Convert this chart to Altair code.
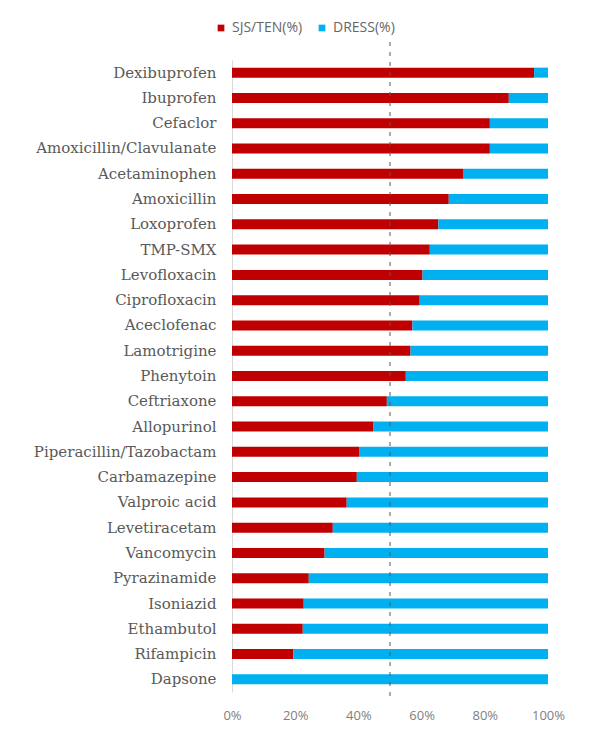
import altair as alt
import pandas as pd

drugs = ["Dexibuprofen", "Ibuprofen", "Cefaclor", "Amoxicillin/Clavulanate", "Acetaminophen",
         "Amoxicillin", "Loxoprofen", "TMP-SMX", "Levofloxacin", "Ciprofloxacin",
         "Aceclofenac", "Lamotrigine", "Phenytoin", "Ceftriaxone", "Allopurinol",
         "Piperacillin/Tazobactam", "Carbamazepine", "Valproic acid", "Levetiracetam",
         "Vancomycin", "Pyrazinamide", "Isoniazid", "Ethambutol", "Rifampicin", "Dapsone"]
sjs_ten = [95.6, 87.6, 81.6, 81.6, 73.1, 68.6, 65.3, 62.6, 60.3, 59.4,
           57.1, 56.5, 55.0, 49.0, 44.8, 40.2, 39.5, 36.3, 31.9, 29.3,
           24.3, 22.7, 22.4, 19.4, 0.0]
dress = [round(100 - v, 1) for v in sjs_ten]
series = ["SJS/TEN(%)", "DRESS(%)"]
colors = ["#C00000", "#00B0F0"]
ticks = [0, 20, 40, 60, 80, 100]

rows = []
for d, s, r in zip(drugs, sjs_ten, dress):
    rows.append({"drug": d, "type": series[0], "value": s, "ord": 0})
    rows.append({"drug": d, "type": series[1], "value": r, "ord": 1})
df = pd.DataFrame(rows)

W, H = 316, 632

bars = alt.Chart(df).mark_bar(size=10).encode(
    y=alt.Y("drug:N", sort=drugs, title=None,
            axis=alt.Axis(labelFont="DejaVu Serif", labelFontSize=15, labelColor="#595959",
                          labelPadding=16, ticks=False, domainColor="#D9D9D9", domainWidth=1,
                          labelLimit=300)),
    x=alt.X("value:Q", stack="zero", title=None,
            scale=alt.Scale(domain=[0, 100], nice=False),
            axis=alt.Axis(values=ticks, labelExpr="datum.value + '%'", grid=False, domain=False,
                          ticks=False, labelFlush=False, labelFont="Open Sans", labelFontSize=13,
                          labelColor="#808080", labelPadding=17)),
    color=alt.Color("type:N", scale=alt.Scale(domain=series, range=colors),
                    legend=alt.Legend(title=None, orient="none", direction="horizontal",
                                      legendX=-18, legendY=-39, symbolType="square",
                                      symbolSize=45, labelFont="Open Sans", labelFontSize=14,
                                      labelColor="#666666", columnPadding=12,
                                      symbolStrokeWidth=0)),
    order=alt.Order("ord:Q"),
)

rule = alt.Chart(pd.DataFrame({"x": [50]})).mark_rule(
    color="#595959", strokeDash=[4, 6], strokeWidth=1
).encode(x="x:Q", y=alt.value(-18), y2=alt.value(H + 10))

chart = alt.layer(bars, rule).properties(
    width=W, height=H,
    autosize=alt.AutoSizeParams(type="none"),
    padding={"left": 224, "top": 52, "right": 30, "bottom": 40},
).configure_view(stroke=None)

chart.save("out.html", embed_options={"renderer": "svg", "actions": False})
